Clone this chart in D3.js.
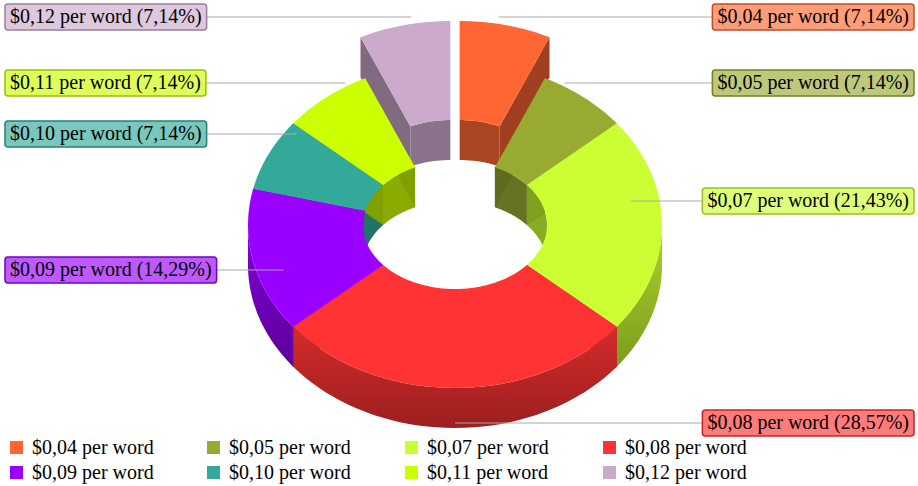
<!DOCTYPE html><html><head><script src="https://d3js.org/d3.v7.min.js"></script>
<style>body{margin:0;background:#fff}</style></head><body><svg id="c" width="918" height="486"></svg>
<script>
const categories=["$0,04 per word","$0,05 per word","$0,07 per word","$0,08 per word","$0,09 per word","$0,10 per word","$0,11 per word","$0,12 per word"];
const values=[1,1,3,4,2,1,1,1];
const colors=["#FF6633","#99AA33","#CCFF33","#FF3333","#9900FF","#33AA99","#CCFF00","#CCAACC"];
const exploded=[1,0,0,0,0,0,0,1];
const labelY=[17,83,201,423,270,134,83,17];
const labelSide=["r","r","r","r","l","l","l","l"];
const svg=d3.select("#c");
const cx=455,cy=225,rx=207,ry=163,irx=92,iry=64,depth=40;
const total=d3.sum(values);
const pie=d3.pie().sort(null).value(d=>d)(values);
const pt=(a,Rx,Ry,dx,dy,h)=>[cx+dx+Rx*Math.sin(a),cy+dy-Ry*Math.cos(a)+h];
function arcPts(a0,a1,Rx,Ry,dx,dy,h){const n=40,p=[];for(let i=0;i<=n;i++){const a=a0+(a1-a0)*i/n;p.push(pt(a,Rx,Ry,dx,dy,h));}return p;}
const line=d3.line();
const sl=pie.map((p,i)=>{const m=(p.startAngle+p.endAngle)/2;const off=exploded[i]?42:0;return {i,a0:p.startAngle,a1:p.endAngle,m,dx:off*Math.sin(m)*0.5,dy:-off*Math.cos(m)};});
const gW=svg.append("g"),gT=svg.append("g");
sl.forEach(s=>{
 [[s.a0,Math.min(s.a1,Math.PI/2)],[Math.max(s.a0,1.5*Math.PI),s.a1]].forEach(([b0,b1])=>{if(b1<=b0)return;
 const top=arcPts(b0,b1,irx,iry,s.dx,s.dy,0),bot=arcPts(b1,b0,irx,iry,s.dx,s.dy,depth);
 gW.append("path").attr("d",line(top.concat(bot))+"Z").attr("fill",d3.color(colors[s.i]).darker(1.1));});});
sl.forEach(s=>{[s.a0,s.a1].forEach(a=>{const p=[pt(a,irx,iry,s.dx,s.dy,0),pt(a,rx,ry,s.dx,s.dy,0),pt(a,rx,ry,s.dx,s.dy,depth),pt(a,irx,iry,s.dx,s.dy,depth)];
 gW.append("path").attr("d",line(p)+"Z").attr("fill",d3.color(colors[s.i]).darker(1.3));});});
sl.forEach(s=>{const b0=Math.max(s.a0,Math.PI/2),b1=Math.min(s.a1,1.5*Math.PI);if(b1<=b0)return;
 const top=arcPts(b0,b1,rx,ry,s.dx,s.dy,0),bot=arcPts(b1,b0,rx,ry,s.dx,s.dy,depth);
 const gid="g"+s.i;const gr=svg.append("defs").append("linearGradient").attr("id",gid).attr("x1",0).attr("y1",0).attr("x2",0).attr("y2",1);
 gr.append("stop").attr("offset",0).attr("stop-color",d3.color(colors[s.i]).darker(0.5));
 gr.append("stop").attr("offset",1).attr("stop-color",d3.color(colors[s.i]).darker(1.4));
 gW.append("path").attr("d",line(top.concat(bot))+"Z").attr("fill",`url(#${gid})`);});
sl.forEach(s=>{const o=arcPts(s.a0,s.a1,rx,ry,s.dx,s.dy,0),inn=arcPts(s.a1,s.a0,irx,iry,s.dx,s.dy,0);
 gT.append("path").attr("d",line(o.concat(inn))+"Z").attr("fill",colors[s.i]);});
const gL=svg.append("g");
sl.forEach(s=>{const pct=(values[s.i]/total*100).toFixed(2).replace(".",",");
 const txt=`${categories[s.i]} (${pct}%)`;const y=labelY[s.i];
 const t=gL.append("text").attr("font-family","Liberation Serif").attr("font-size",20).attr("y",y+6).text(txt);
 const w=t.node().getComputedTextLength()+10;
 const x0=labelSide[s.i]=="r"?914-w:5;t.attr("x",x0+5);
 const an=pt(s.m,rx*0.85,ry*0.85,s.dx,s.dy,0);
 const ex=labelSide[s.i]=="r"?x0:x0+w;
 gL.insert("path","text").attr("d",line([[ex,y],[an[0],y]])).attr("stroke","#aaa").attr("fill","none");
 gL.insert("rect","text").attr("x",x0).attr("y",y-13).attr("width",w).attr("height",26).attr("rx",3)
  .attr("fill",d3.interpolateRgb(colors[s.i],"#fff")(0.35)).attr("stroke",d3.color(colors[s.i]).darker(0.8)).attr("stroke-width",1.5);});
const cols=[10,207,405,603];
categories.forEach((c,i)=>{const x=cols[i%4],y=i<4?448:473;
 svg.append("rect").attr("x",x).attr("y",y-7).attr("width",13).attr("height",13).attr("fill",colors[i]);
 svg.append("text").attr("x",x+22).attr("y",y+6).attr("font-family","Liberation Serif").attr("font-size",20).text(c);});
</script></body></html>
